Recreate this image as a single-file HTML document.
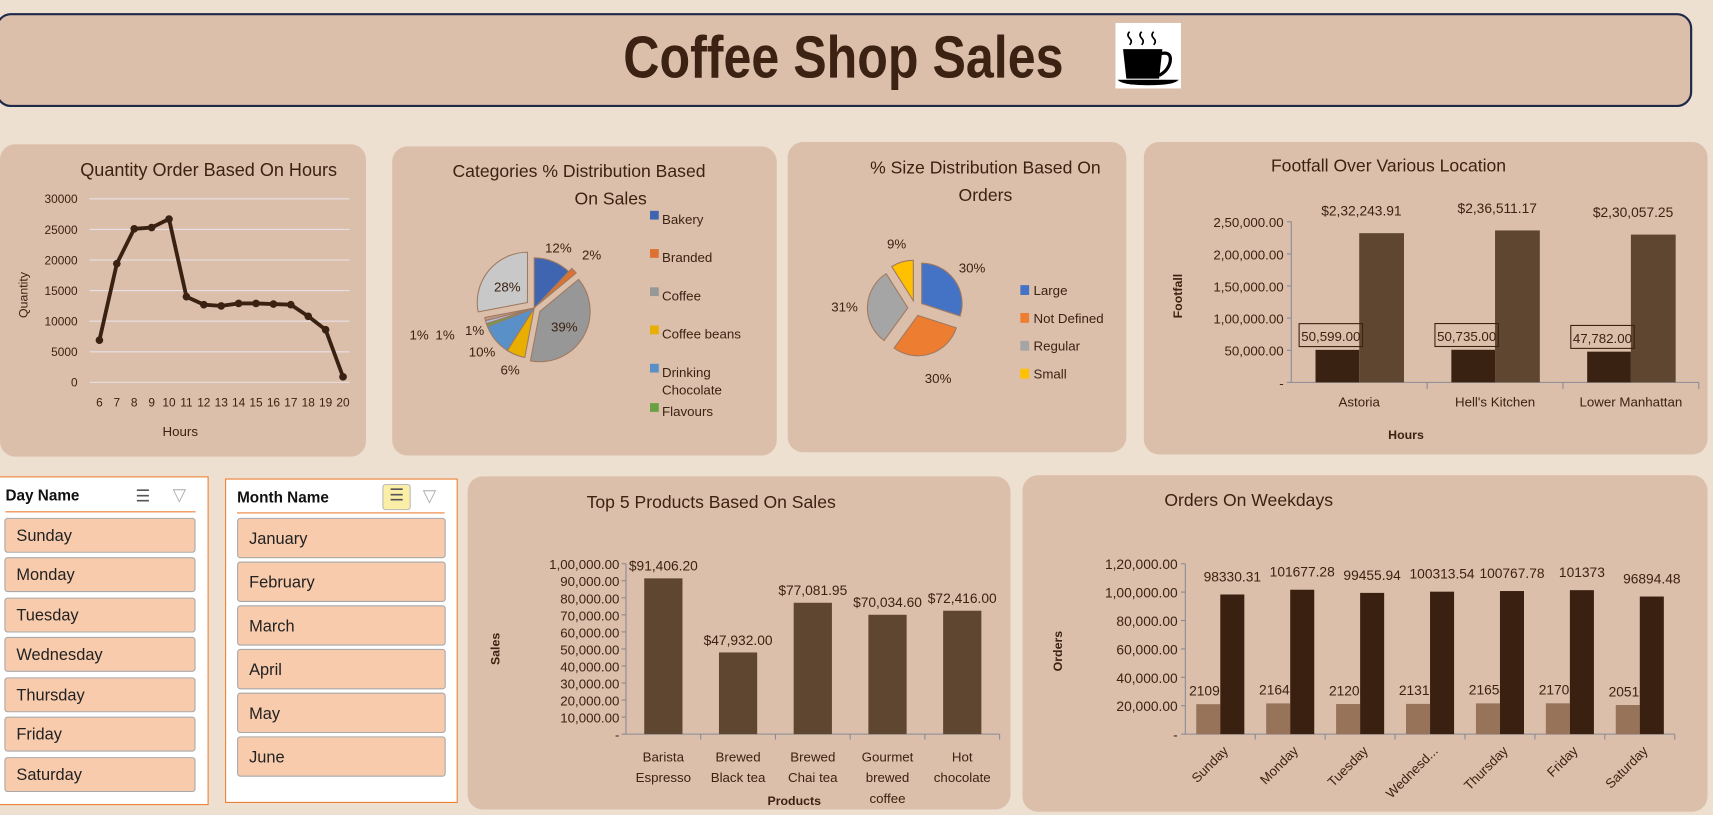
<!DOCTYPE html>
<html><head><meta charset="utf-8">
<style>
html,body{margin:0;padding:0;background:#ede0d1;overflow:hidden;width:1713px;height:815px}
#wrap{position:absolute;left:0;top:0;width:1568px;height:746px;transform:scale(1.09247);transform-origin:0 0;font-family:"Liberation Sans",sans-serif;color:#3b2212}
.panel{position:absolute;background:#dbbfab;border-radius:14px}
svg text{font-family:"Liberation Sans",sans-serif;fill:#3b2212}
.slicer{position:absolute;background:#fff;border:1px solid #ed7d31}
.sh{position:absolute;left:5px;top:8px;font:bold 14px "Liberation Sans",sans-serif;color:#111}
.item{position:absolute;left:4px;height:32px;background:#f7cbac;border:1px solid #a9a9a9;border-radius:3px;font:15px "Liberation Sans",sans-serif;color:#222;line-height:32px;padding-left:10px;box-sizing:border-box}
</style></head><body>
<div id="wrap">
<div class="panel" style="left:-4px;top:12px;width:1549px;height:82px;border:2px solid #1f2a48;border-radius:14px"></div>
<div style="position:absolute;left:522px;top:22px;width:500px;text-align:center;font:bold 54px 'Liberation Sans',sans-serif;color:#3b2212;line-height:62px;transform:scaleX(0.85);transform-origin:center">Coffee Shop Sales</div>
<svg style="position:absolute;left:1021px;top:21px" width="60" height="60" viewBox="0 0 60 60">
<rect width="60" height="60" fill="#fff"/>
<path d="M13 8q-3 3 0 6q3 3 0 6M24 8q-3 3 0 6q3 3 0 6M35 8q-3 3 0 6q3 3 0 6" stroke="#000" stroke-width="1.5" fill="none"/>
<path d="M7 24h36l-3 27h-30z" fill="#000"/><path d="M42 28q10 -2 8 8q-2 8 -10 12" stroke="#000" stroke-width="3" fill="none"/>
<path d="M2 52h56q-4 5 -28 5q-24 0 -28 -5z" fill="#000"/></svg>

<div class="panel" style="left:0;top:132px;width:335px;height:286px"></div>
<div class="panel" style="left:359px;top:134px;width:352px;height:283px"></div>
<div class="panel" style="left:721px;top:130px;width:310px;height:284px"></div>
<div class="panel" style="left:1047px;top:130px;width:516px;height:286px"></div>
<div class="panel" style="left:428px;top:436px;width:497px;height:305px"></div>
<div class="panel" style="left:936px;top:435px;width:627px;height:308px"></div>

<div class="slicer" style="left:-1px;top:436px;width:190px;height:299px">
<div class="sh">Day Name</div>
<div style="position:absolute;left:124px;top:8px;font-size:15px;color:#555">☰</div>
<div style="position:absolute;left:158px;top:6px;font-size:16px;color:#aaa">▽</div>
<div style="position:absolute;left:5px;top:31px;width:174px;height:1px;background:#ed7d31"></div>
<div class="item" style="top:37px;width:175px">Sunday</div>
<div class="item" style="top:73px;width:175px">Monday</div>
<div class="item" style="top:110px;width:175px">Tuesday</div>
<div class="item" style="top:146px;width:175px">Wednesday</div>
<div class="item" style="top:183px;width:175px">Thursday</div>
<div class="item" style="top:219px;width:175px">Friday</div>
<div class="item" style="top:256px;width:175px">Saturday</div>
</div>
<div class="slicer" style="left:206px;top:438px;width:211px;height:295px">
<div class="sh" style="left:10px">Month Name</div>
<div style="position:absolute;left:143px;top:4px;width:24px;height:22px;background:#fbeea6;border:1px solid #bbb;border-radius:3px;font-size:15px;color:#555;text-align:center">☰</div>
<div style="position:absolute;left:180px;top:5px;font-size:16px;color:#aaa">▽</div>
<div style="position:absolute;left:10px;top:30px;width:190px;height:1px;background:#ed7d31"></div>
<div class="item" style="left:10px;top:35px;width:191px;height:37px;line-height:37px">January</div>
<div class="item" style="left:10px;top:75px;width:191px;height:37px;line-height:37px">February</div>
<div class="item" style="left:10px;top:115px;width:191px;height:37px;line-height:37px">March</div>
<div class="item" style="left:10px;top:155px;width:191px;height:37px;line-height:37px">April</div>
<div class="item" style="left:10px;top:195px;width:191px;height:37px;line-height:37px">May</div>
<div class="item" style="left:10px;top:235px;width:191px;height:37px;line-height:37px">June</div>
</div>

<svg id="chart" width="1568" height="746" style="position:absolute;left:0;top:0"></svg>
</div>
<script>
// ---------- data ----------
const hourCats=[6,7,8,9,10,11,12,13,14,15,16,17,18,19,20];
const hourQty=[6900,19400,25100,25300,26700,14000,12700,12500,12900,12900,12800,12700,10800,8600,900];
const hourTicks=[0,5000,10000,15000,20000,25000,30000];
const catNames=["Bakery","Branded","Coffee","Coffee beans","Drinking Chocolate","Flavours","Loose Tea","Packaged Chocolate","Tea"];
const catPct=[12,2,39,6,10,1,1,1,28];
const sizeNames=["Large","Not Defined","Regular","Small"];
const sizePct=[30,30,31,9];
const locCats=["Astoria","Hell's Kitchen","Lower Manhattan"];
const locFootfall=[50599,50735,47782];
const locSales=[232243.91,236511.17,230057.25];
const locTicks=[0,50000,100000,150000,200000,250000];
const prodCats=[["Barista","Espresso"],["Brewed","Black tea"],["Brewed","Chai tea"],["Gourmet","brewed","coffee"],["Hot","chocolate"]];
const prodSales=[91406.20,47932.00,77081.95,70034.60,72416.00];
const prodTicks=[0,10000,20000,30000,40000,50000,60000,70000,80000,90000,100000];
const dayCats=["Sunday","Monday","Tuesday","Wednesd...","Thursday","Friday","Saturday"];
const dayOrders=[21096,21643,21202,21310,21654,21701,20510];
const daySales=[98330.31,101677.28,99455.94,100313.54,100767.78,101373,96894.48];
const dayTicks=[0,20000,40000,60000,80000,100000,120000];

const svg=document.getElementById('chart');
const NS='http://www.w3.org/2000/svg';
const FS=0.87;
function mk(tag,attrs,name){const e=document.createElementNS(NS,tag);for(const k in attrs)e.setAttribute(k,attrs[k]);


svg.appendChild(e);return e;}
function tx(x,y,s,size,name,anchor,extra){const e=mk('text',Object.assign({x:x,y:y,'font-size':size*FS,'text-anchor':anchor||'middle'},extra||{}),name);e.textContent=s;return e;}
const inr=v=>{const [i,d]=v.toFixed(2).split('.');let s=i;if(s.length>3){let last=s.slice(-3),rest=s.slice(0,-3);rest=rest.replace(/\B(?=(\d{2})+(?!\d))/g,',');s=rest+','+last;}return s+'.'+d;};
const tickLbl=v=>v===0?'-':inr(v);

// ---------- line chart ----------
tx(191,161,'Quantity Order Based On Hours',19,'line-chart-title');
const lx=i=>91+i*(314-91)/(hourCats.length-1), ly=v=>350-v/30000*168;
hourTicks.forEach(t=>{mk('line',{x1:82,x2:320,y1:ly(t),y2:ly(t),stroke:'#e8e0e8','stroke-width':1},'y-gridline');tx(71,ly(t)+4,String(t),12.5,'y-tick-label','end');});
hourCats.forEach((c,i)=>tx(lx(i),372,String(c),12.5,'x-tick-label'));
tx(165,399,'Hours',14,'x-axis-title');
tx(25,270,'Quantity',13,'y-axis-title','middle',{transform:'rotate(-90 25 270)'});
mk('polyline',{points:hourQty.map((v,i)=>lx(i)+','+ly(v)).join(' '),fill:'none',stroke:'#3a2212','stroke-width':3.5,'stroke-linejoin':'round'},'quantity-line');
hourQty.forEach((v,i)=>mk('circle',{cx:lx(i),cy:ly(v),r:3.5,fill:'#3a2212'},'quantity-point'));

// ---------- pie helper ----------
function pie(cx,cy,r,vals,cols,explode,labelR,name,fs){
 const tot=vals.reduce((a,b)=>a+b,0);let a0=-Math.PI/2;
 vals.forEach((v,i)=>{const a1=a0+v/tot*2*Math.PI,am=(a0+a1)/2,ex=explode[i];
  const ox=cx+ex*Math.cos(am),oy=cy+ex*Math.sin(am);
  const d=`M${ox},${oy}L${ox+r*Math.cos(a0)},${oy+r*Math.sin(a0)}A${r},${r} 0 ${a1-a0>Math.PI?1:0} 1 ${ox+r*Math.cos(a1)},${oy+r*Math.sin(a1)}Z`;
  mk('path',{d:d,fill:cols[i],stroke:'#a07a60','stroke-width':1},name+'-slice');
  const lr=labelR[i];tx(ox+lr*Math.cos(am),oy+lr*Math.sin(am)+5,v+'%',fs,name+'-label');
  a0=a1;});
}
// category pie
tx(530,162,'Categories % Distribution Based',18.5,'category-pie-title');
tx(559,187,'On Sales',18.5,'category-pie-title');
pie(489,282,46,catPct,['#4065b0','#dd7230','#979797','#e8ae00','#5990c8','#68a144','#b3b8dd','#c29a88','#c8c8c8'],[0,4,6,0,0,0,0,0,8],[60,68,26,60,62,58,85,108,24],'category-pie',14);
const lg1=[202,237,272,307,342,378];
catNames.slice(0,6).forEach((n,i)=>{mk('rect',{x:595,y:lg1[i]-9,width:8,height:8,fill:['#4065b0','#dd7230','#979797','#e8ae00','#5990c8','#68a144'][i]},'category-legend-swatch');
 if(n==='Drinking Chocolate'){tx(606,lg1[i]+3,'Drinking',14,'category-legend-entry','start');tx(606,lg1[i]+19,'Chocolate',14,'category-legend-entry','start');}
 else tx(606,lg1[i]+3,n,14,'category-legend-entry','start');});
// size pie
tx(902,159,'% Size Distribution Based On',18.5,'size-pie-title');
tx(902,184,'Orders',18.5,'size-pie-title');
pie(838,282,37,sizePct,['#4472c4','#ed7d31','#a5a5a5','#ffc000'],[7,7,7,7],[57,60,58,55],'size-pie',14);
sizeNames.forEach((n,i)=>{mk('rect',{x:934,y:261+i*25.5,width:8,height:9,fill:['#4472c4','#ed7d31','#a5a5a5','#ffc000'][i]},'size-legend-swatch');tx(946,270+i*25.5,n,14,'size-legend-entry','start');});

// ---------- footfall ----------
tx(1271,157,'Footfall Over Various Location',18.5,'footfall-title');
const fy=v=>350-v/250000*147, fx0=1182, fw=(1555-1182)/3;
locTicks.forEach(t=>{mk('line',{x1:fx0-4,x2:fx0,y1:fy(t),y2:fy(t),stroke:'#8a8a96'},'y-tick');tx(fx0-7,fy(t)+5,tickLbl(t),14,'footfall-y-tick-label','end');});
mk('line',{x1:fx0,x2:fx0,y1:fy(250000),y2:fy(0),stroke:'#8a8a96'},'footfall-y-axis');
mk('line',{x1:fx0,x2:1555,y1:fy(0),y2:fy(0),stroke:'#8a8a96'},'footfall-x-axis');
locCats.forEach((c,i)=>{const cx=fx0+fw*(i+.5);
 mk('line',{x1:fx0+fw*(i+1),x2:fx0+fw*(i+1),y1:fy(0),y2:fy(0)+6,stroke:'#8a8a96'},'x-tick');
 mk('rect',{x:cx-40,y:fy(locFootfall[i]),width:40,height:fy(0)-fy(locFootfall[i]),fill:'#3a2212'},'footfall-bar');
 mk('rect',{x:cx,y:fy(locSales[i]),width:41,height:fy(0)-fy(locSales[i]),fill:'#5e4631'},'sales-bar');
 tx(cx+2,fy(locSales[i])-16,'$'+inr(locSales[i]),14.5,'sales-value-label');
 const ly2=fy(locFootfall[i])-24;mk('rect',{x:cx-55,y:ly2,width:58,height:21,fill:'none',stroke:'#3a2212'},'footfall-label-box');
 tx(cx-26,ly2+16,inr(locFootfall[i]),14,'footfall-value-label');
 tx(cx,372,c,14,'footfall-x-tick-label');});
tx(1287,402,'Hours',13,'footfall-x-axis-title','middle',{'font-weight':'bold'});
tx(1082,271,'Footfall',13,'footfall-y-axis-title','middle',{'font-weight':'bold',transform:'rotate(-90 1082 271)'});

// ---------- top products ----------
tx(651,465,'Top 5 Products Based On Sales',18.5,'top-products-title');
const py=v=>672-v/100000*156, px0=573, pw=(915-573)/5;
prodTicks.forEach(t=>{mk('line',{x1:px0-4,x2:px0,y1:py(t),y2:py(t),stroke:'#8a8a96'},'y-tick');tx(px0-6,py(t)+5,tickLbl(t),14,'top-products-y-tick-label','end');});
mk('line',{x1:px0,x2:px0,y1:py(100000),y2:py(0),stroke:'#8a8a96'},'top-products-y-axis');
mk('line',{x1:px0,x2:915,y1:py(0),y2:py(0),stroke:'#8a8a96'},'top-products-x-axis');
prodCats.forEach((c,i)=>{const cx=px0+pw*(i+.5);
 mk('line',{x1:px0+pw*(i+1),x2:px0+pw*(i+1),y1:py(0),y2:py(0)+5,stroke:'#8a8a96'},'x-tick');
 mk('rect',{x:cx-17.5,y:py(prodSales[i]),width:35,height:py(0)-py(prodSales[i]),fill:'#5e4631'},'product-bar');
 tx(cx,py(prodSales[i])-7,'$'+inr(prodSales[i]),14.5,'product-value-label');
 c.forEach((l,j)=>tx(cx,697+j*19,l,14,'product-x-tick-label'));});
tx(727,737,'Products',13,'top-products-x-axis-title','middle',{'font-weight':'bold'});
tx(457,594,'Sales',13,'top-products-y-axis-title','middle',{'font-weight':'bold',transform:'rotate(-90 457 594)'});

// ---------- weekdays ----------
tx(1143,463,'Orders On Weekdays',18.5,'weekday-title');
const wy=v=>672-v/120000*156, wx0=1085, ww=(1533-1085)/7;
dayTicks.forEach(t=>{mk('line',{x1:wx0-4,x2:wx0,y1:wy(t),y2:wy(t),stroke:'#8a8a96'},'y-tick');tx(wx0-7,wy(t)+5,tickLbl(t),14.5,'weekday-y-tick-label','end');});
mk('line',{x1:wx0,x2:wx0,y1:wy(120000),y2:wy(0),stroke:'#8a8a96'},'weekday-y-axis');
mk('line',{x1:wx0,x2:1533,y1:wy(0),y2:wy(0),stroke:'#8a8a96'},'weekday-x-axis');
dayCats.forEach((c,i)=>{const cx=wx0+ww*(i+.5);
 mk('line',{x1:wx0+ww*(i+1),x2:wx0+ww*(i+1),y1:wy(0),y2:wy(0)+5,stroke:'#8a8a96'},'x-tick');
 mk('rect',{x:cx-22,y:wy(dayOrders[i]),width:22,height:wy(0)-wy(dayOrders[i]),fill:'#97735a'},'orders-bar');
 tx(cx-11,wy(dayOrders[i])-8,String(dayOrders[i]),14.5,'orders-value-label');
 mk('rect',{x:cx,y:wy(daySales[i]),width:22,height:wy(0)-wy(daySales[i]),fill:'#3a2010'},'sales-bar');
 tx(cx+11,wy(daySales[i])-12,String(daySales[i]),14.5,'sales-value-label');
 tx(cx+8,wy(0)+16,c,14,'weekday-x-tick-label','end',{transform:`rotate(-45 ${cx+8} ${wy(0)+16})`});});
tx(972,596,'Orders',13,'weekday-y-axis-title','middle',{'font-weight':'bold',transform:'rotate(-90 972 596)'});
</script>
</body></html>
